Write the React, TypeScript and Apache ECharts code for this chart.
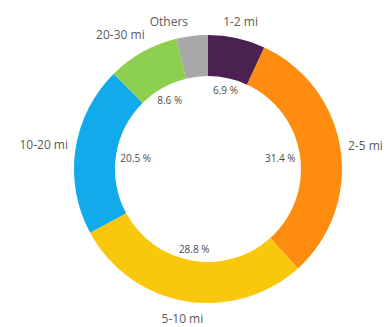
import React, { useEffect, useRef } from "react";
import * as echarts from "echarts";

const categories = ["1-2 mi", "2-5 mi", "5-10 mi", "10-20 mi", "20-30 mi", "Others"];
const values = [6.9, 31.4, 28.8, 20.5, 8.6, 3.8];
const colors = ["#4b2151", "#fd8c0f", "#f9c70c", "#11aaea", "#8dcf4f", "#a8a8a8"];
const showPct = [true, true, true, true, true, false];

const CX = 0.536;
const CY = 0.517;
const R_IN = 93;
const R_OUT = 134;
const FONT = "Open Sans";
const OUT_SIZE = 12;
const IN_SIZE = 10;

export default function App() {
  const ref = useRef<HTMLDivElement>(null);
  useEffect(() => {
    if (!ref.current) return;
    const chart = echarts.init(ref.current, null, { renderer: "svg" });
    const total = values.reduce((a, b) => a + b, 0);
    const mids: number[] = [];
    let acc = 0;
    values.forEach((v) => {
      mids.push(((acc + v / 2) / total) * Math.PI * 2);
      acc += v;
    });
    const cx = chart.getWidth() * CX;
    const cy = chart.getHeight() * CY;

    const cv = document.createElement("canvas").getContext("2d") as CanvasRenderingContext2D;
    cv.font = `${OUT_SIZE}px "${FONT}"`;
    const outerBoxes = categories.map((c) => ({ w: cv.measureText(c).width, h: OUT_SIZE + 2 }));

    const posAt = (th: number, w: number, h: number, outer: boolean) => {
      const s = Math.sin(th);
      const c = Math.cos(th);
      const ext = (Math.abs(s) * w) / 2 + (Math.abs(c) * h) / 2;
      const d = outer ? R_OUT + 7 + ext : R_IN - 4 - ext;
      return { x: cx + d * s, y: cy - d * c };
    };

    // resolve outer label collisions, pushing labels counter-clockwise
    const GAP_H = 34;
    const GAP_V = -1;
    const placed: { x: number; y: number; w: number; h: number }[] = [];
    const outerPos: { x: number; y: number }[] = new Array(categories.length);
    const order = [0, ...categories.map((_, i) => i).slice(1).reverse()];
    order.forEach((i) => {
      const { w, h } = outerBoxes[i];
      let th = mids[i];
      let p = posAt(th, w, h, true);
      const hits = (q: { x: number; y: number }) =>
        placed.some(
          (b) =>
            Math.abs(q.x - b.x) < (w + b.w) / 2 + GAP_H &&
            Math.abs(q.y - b.y) < (h + b.h) / 2 + GAP_V
        );
      let guard = 0;
      while (hits(p) && guard < 180) {
        th -= Math.PI / 360;
        p = posAt(th, w, h, true);
        guard++;
      }
      placed.push({ x: p.x, y: p.y, w, h });
      outerPos[i] = p;
    });

    const center = [CX * 100 + "%", CY * 100 + "%"];
    chart.setOption({
      animation: false,
      series: [
        {
          type: "pie",
          radius: [R_IN, R_OUT],
          center,
          startAngle: 90,
          clockwise: true,
          avoidLabelOverlap: false,
          label: {
            show: true,
            position: "outside",
            color: "#5a5a5a",
            fontSize: OUT_SIZE,
            lineHeight: OUT_SIZE + 2,
            fontFamily: FONT,
            overflow: "none",
            formatter: "{b}",
          },
          labelLine: { show: false },
          labelLayout: (p: any) => ({
            x: outerPos[p.dataIndex].x,
            y: outerPos[p.dataIndex].y,
            align: "center",
            verticalAlign: "middle",
          }),
          data: categories.map((c, i) => ({
            name: c,
            value: values[i],
            itemStyle: { color: colors[i] },
          })),
          silent: true,
        },
        {
          type: "pie",
          radius: [0, R_IN],
          center,
          startAngle: 90,
          clockwise: true,
          z: 0,
          silent: true,
          avoidLabelOverlap: false,
          itemStyle: { color: "rgba(0,0,0,0)" },
          label: {
            show: true,
            position: "inside",
            color: "#4a4a4a",
            fontSize: IN_SIZE,
            fontFamily: FONT,
            overflow: "none",
            formatter: (p: any) => (showPct[p.dataIndex] ? p.value.toFixed(1) + " %" : ""),
          },
          labelLine: { show: false },
          labelLayout: (p: any) => {
            const q = posAt(mids[p.dataIndex], p.labelRect.width, p.labelRect.height, false);
            return { x: q.x, y: q.y, align: "center", verticalAlign: "middle" };
          },
          data: categories.map((c, i) => ({ name: c, value: values[i] })),
        },
      ],
    });
    return () => chart.dispose();
  }, []);
  return (
    <div
      ref={ref}
      style={{ position: "absolute", left: 0, top: 0, width: 388, height: 327, background: "#fff" }}
    />
  );
}
